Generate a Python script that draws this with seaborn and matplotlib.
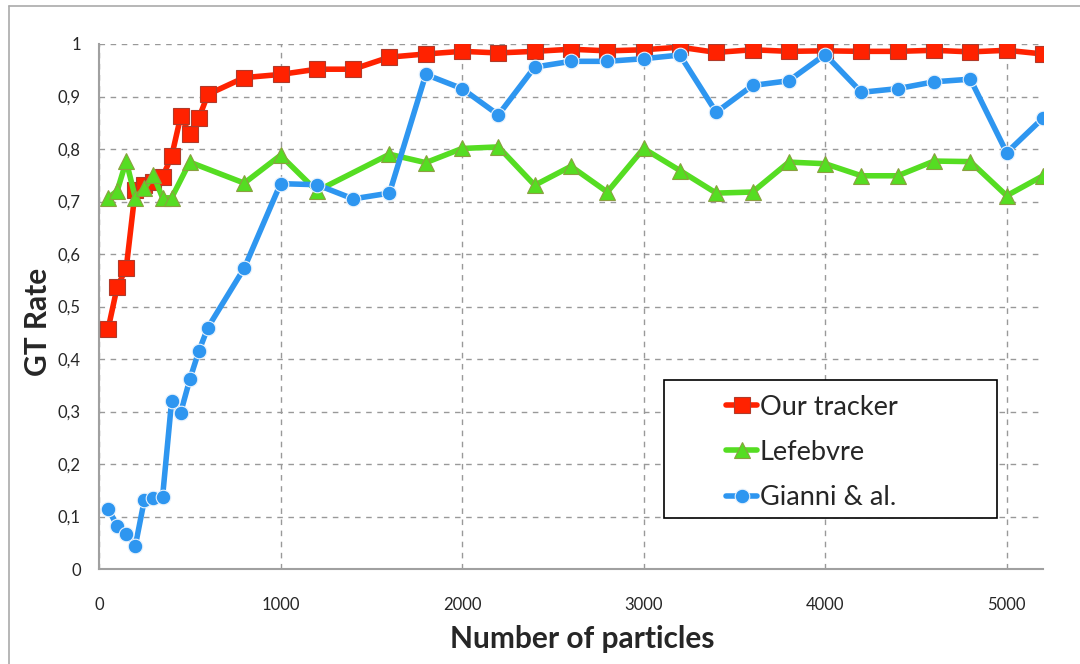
import pandas as pd
import matplotlib
matplotlib.use('Agg')
import matplotlib.pyplot as plt
import seaborn as sns
from matplotlib.lines import Line2D
from matplotlib.patches import Rectangle

# Data
x_ours = [50, 100, 150, 200, 250, 300, 350, 400, 450, 500, 550, 600,
          800, 1000, 1200, 1400, 1600, 1800, 2000, 2200, 2400, 2600, 2800,
          3000, 3200, 3400, 3600, 3800, 4000, 4200, 4400, 4600, 4800, 5000, 5200]
y_ours = [0.457, 0.537, 0.573, 0.722, 0.732, 0.738, 0.747, 0.786, 0.862, 0.829, 0.859, 0.904,
          0.936, 0.942, 0.952, 0.952, 0.975, 0.981, 0.986, 0.983, 0.986, 0.990, 0.987,
          0.989, 0.994, 0.984, 0.989, 0.986, 0.987, 0.986, 0.986, 0.988, 0.985, 0.988, 0.981]

x_lef = [50, 100, 150, 200, 250, 300, 350, 400, 500,
         800, 1000, 1200, 1600, 1800, 2000, 2200, 2400, 2600, 2800,
         3000, 3200, 3400, 3600, 3800, 4000, 4200, 4400, 4600, 4800, 5000, 5200]
y_lef = [0.707, 0.720, 0.777, 0.707, 0.725, 0.750, 0.707, 0.707, 0.775,
         0.735, 0.788, 0.720, 0.790, 0.774, 0.801, 0.804, 0.731, 0.767, 0.718,
         0.801, 0.759, 0.716, 0.718, 0.775, 0.772, 0.749, 0.749, 0.777, 0.776, 0.711, 0.749]

x_gia = [50, 100, 150, 200, 250, 300, 350, 400, 450, 500, 550, 600,
         800, 1000, 1200, 1400, 1600, 1800, 2000, 2200, 2400, 2600, 2800,
         3000, 3200, 3400, 3600, 3800, 4000, 4200, 4400, 4600, 4800, 5000, 5200]
y_gia = [0.115, 0.082, 0.067, 0.044, 0.132, 0.135, 0.137, 0.320, 0.298, 0.361, 0.415, 0.460,
         0.573, 0.734, 0.732, 0.705, 0.716, 0.942, 0.915, 0.865, 0.956, 0.967, 0.967,
         0.972, 0.979, 0.870, 0.921, 0.930, 0.980, 0.908, 0.915, 0.928, 0.933, 0.793, 0.859]

ytick_vals = [0, 0.1, 0.2, 0.3, 0.4, 0.5, 0.6, 0.7, 0.8, 0.9, 1.0]
ytick_labels = ['0', '0,1', '0,2', '0,3', '0,4', '0,5', '0,6', '0,7', '0,8', '0,9', '1']
xtick_vals = [0, 1000, 2000, 3000, 4000, 5000]

sns.set_style('white')
plt.rcParams['font.family'] = ['Lato', 'DejaVu Sans']

fig = plt.figure(figsize=(10.8, 6.64), dpi=100)
ax = fig.add_axes([99 / 1080, 1 - 569 / 664, 944 / 1080, 525 / 664])

series = [
    ('Our tracker', x_ours, y_ours, '#ff2200', 's', 11, '#b03a2a'),
    ('Lefebvre', x_lef, y_lef, '#55dd22', '^', 11.5, '#8aa040'),
    ('Gianni & al.', x_gia, y_gia, '#2e96f0', 'o', 10.5, '#e8f2fc'),
]

handles = []
for name, xs, ys, col, mk, ms, mec in series:
    df = pd.DataFrame({'x': xs, 'y': ys})
    sns.lineplot(data=df, x='x', y='y', ax=ax, color=col, linewidth=4,
                 marker=mk, markersize=ms, markeredgecolor=mec,
                 markeredgewidth=0.8, legend=False, zorder=3, sort=False,
                 estimator=None)
    handles.append(Line2D([], [], color=col, linewidth=4, marker=mk,
                          markersize=ms, markeredgecolor=mec,
                          markeredgewidth=0.8, label=name))

ax.set_xlim(0, 5200)
ax.set_ylim(0, 1)
ax.set_xticks(xtick_vals)
ax.set_xticklabels([str(v) for v in xtick_vals], fontsize=12)
ax.set_yticks(ytick_vals)
ax.set_yticklabels(ytick_labels, fontsize=12)

ax.grid(True, color='#999999', linestyle=(0, (4, 4)), linewidth=1.0, zorder=0)
ax.set_axisbelow(True)
for s in ['top', 'right']:
    ax.spines[s].set_visible(False)
for s in ['left', 'bottom']:
    ax.spines[s].set_color('#a0a0a0')
    ax.spines[s].set_linewidth(1.5)
ax.tick_params(axis='y', direction='out', length=5, color='#a0a0a0', pad=8)
ax.tick_params(axis='x', direction='inout', length=9, color='#a0a0a0', pad=16)

ax.set_xlabel('Number of particles', fontsize=21.5, fontweight='bold')
ax.set_ylabel('GT Rate', fontsize=21.5, fontweight='bold')
ax.xaxis.set_label_coords(0.512, -0.107)
ax.yaxis.set_label_coords(-0.05, 0.47)

# legend box
ax.add_patch(Rectangle(((664 - 99) / 944, (569 - 518) / 525), 333 / 944, 138 / 525,
                       transform=ax.transAxes, facecolor='white', edgecolor='black',
                       linewidth=1.2, zorder=4))
leg = ax.legend(handles=handles, loc='center left', bbox_to_anchor=(0.65, 0.222),
                frameon=False, fontsize=19.5, handlelength=1.15, handletextpad=0.1,
                labelspacing=0.75, borderpad=0)
leg.set_zorder(5)

# outer frame (left and top only)
fig.add_artist(Line2D([8.5 / 1080, 8.5 / 1080], [0, 1 - 6 / 664], transform=fig.transFigure,
                      color='#aaaaaa', linewidth=1.2))
fig.add_artist(Line2D([8.5 / 1080, 1], [1 - 6 / 664, 1 - 6 / 664], transform=fig.transFigure,
                      color='#aaaaaa', linewidth=1.2))

fig.savefig('out.png', dpi=100)
